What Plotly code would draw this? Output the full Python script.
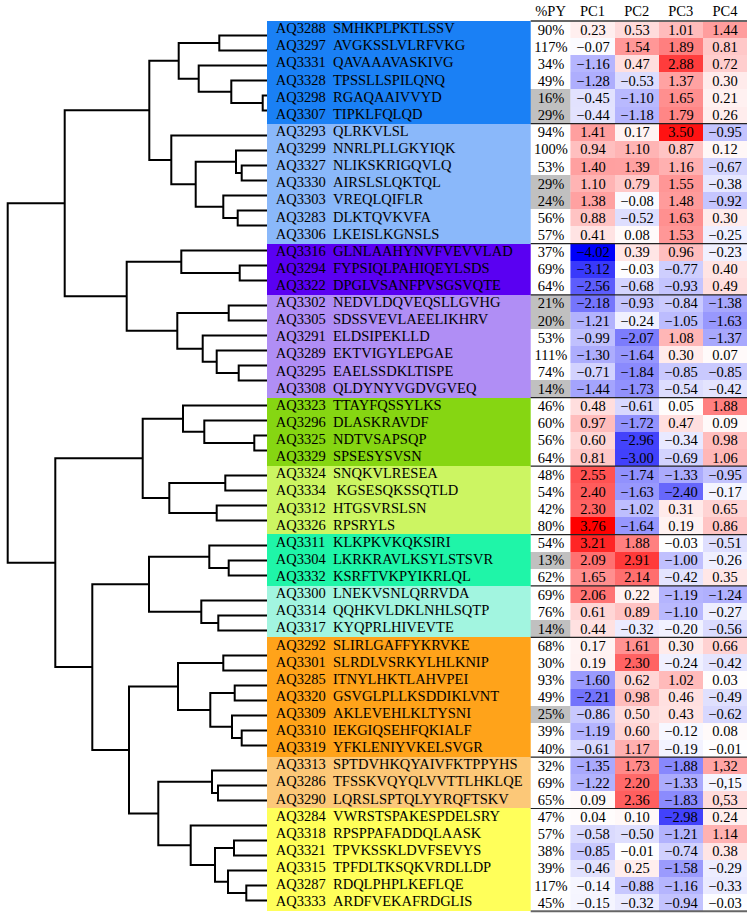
import plotly.graph_objects as go

# ---------------- data ----------------
GROUP_SIZES = [6, 7, 3, 6, 4, 4, 3, 3, 7, 3, 6]
GROUP_COLORS = ["#1a80f5", "#8ab8fa", "#5a00f2", "#b08ef5", "#86d612", "#ccf562",
                "#1ff5a8", "#a2f5e0", "#ffa31a", "#fcc878", "#ffff5a"]

IDS = ["AQ3288", "AQ3297", "AQ3331", "AQ3328", "AQ3298", "AQ3307",
       "AQ3293", "AQ3299", "AQ3327", "AQ3330", "AQ3303", "AQ3283", "AQ3306",
       "AQ3316", "AQ3294", "AQ3322",
       "AQ3302", "AQ3305", "AQ3291", "AQ3289", "AQ3295", "AQ3308",
       "AQ3323", "AQ3296", "AQ3325", "AQ3329",
       "AQ3324", "AQ3334", "AQ3312", "AQ3326",
       "AQ3311", "AQ3304", "AQ3332",
       "AQ3300", "AQ3314", "AQ3317",
       "AQ3292", "AQ3301", "AQ3285", "AQ3320", "AQ3309", "AQ3310", "AQ3319",
       "AQ3313", "AQ3286", "AQ3290",
       "AQ3284", "AQ3318", "AQ3321", "AQ3315", "AQ3287", "AQ3333"]

SEQS = ["SMHKPLPKTLSSV", "AVGKSSLVLRFVKG", "QAVAAAVASKIVG", "TPSSLLSPILQNQ", "RGAQAAIVVYD", "TIPKLFQLQD",
        "QLRKVLSL", "NNRLPLLGKYIQK", "NLIKSKRIGQVLQ", "AIRSLSLQKTQL", "VREQLQIFLR", "DLKTQVKVFA", "LKEISLKGNSLS",
        "GLNLAAHYNVFVEVVLAD", "FYPSIQLPAHIQEYLSDS", "DPGLVSANFPVSGSVQTE",
        "NEDVLDQVEQSLLGVHG", "SDSSVEVLAEELIKHRV", "ELDSIPEKLLD", "EKTVIGYLEPGAE", "EAELSSDKLTISPE", "QLDYNYVGDVGVEQ",
        "TTAYFQSSYLKS", "DLASKRAVDF", "NDTVSAPSQP", "SPSESYSVSN",
        "SNQKVLRESEA", "\u00a0KGSESQKSSQTLD", "HTGSVRSLSN", "RPSRYLS",
        "KLKPKVKQKSIRI", "LKRKRAVLKSYLSTSVR", "KSRFTVKPYIKRLQL",
        "LNEKVSNLQRRVDA", "QQHKVLDKLNHLSQTP", "KYQPRLHIVEVTE",
        "SLIRLGAFFYKRVKE", "SLRDLVSRKYLHLKNIP", "ITNYLHKTLAHVPEI", "GSVGLPLLKSDDIKLVNT", "AKLEVEHLKLTYSNI",
        "IEKGIQSEHFQKIALF", "YFKLENIYVKELSVGR",
        "SPTDVHKQYAIVFKTPPYHS", "TFSSKVQYQLVVTTLHKLQE", "LQRSLSPTQLYYRQFTSKV",
        "VWRSTSPAKESPDELSRY", "RPSPPAFADDQLAASK", "TPVKSSKLDVFSEVYS", "TPFDLTKSQKVRDLLDP", "RDQLPHPLKEFLQE",
        "ARDFVEKAFRDGLIS"]

PY = [90, 117, 34, 49, 16, 29,
      94, 100, 53, 29, 24, 56, 57,
      37, 69, 64,
      21, 20, 53, 111, 74, 14,
      46, 60, 56, 64,
      48, 54, 42, 80,
      54, 13, 62,
      69, 76, 14,
      68, 30, 93, 49, 25, 39, 40,
      32, 69, 65,
      47, 57, 38, 39, 117, 45]

PC1 = [0.23, -0.07, -1.16, -1.28, -0.45, -0.44,
       1.41, 0.94, 1.40, 1.10, 1.38, 0.88, 0.41,
       -4.02, -3.12, -2.56,
       -2.18, -1.21, -0.99, -1.30, -0.71, -1.44,
       0.48, 0.97, 0.60, 0.81,
       2.55, 2.40, 2.30, 3.76,
       3.21, 2.09, 1.65,
       2.06, 0.61, 0.44,
       0.17, 0.19, -1.60, -2.21, -0.86, -1.19, -0.61,
       -1.35, -1.22, 0.09,
       0.04, -0.58, -0.85, -0.46, -0.14, -0.15]

PC2 = [0.53, 1.54, 0.47, -0.53, -1.10, -1.18,
       0.17, 1.10, 1.39, 0.79, -0.08, -0.52, 0.08,
       0.39, -0.03, -0.68,
       -0.93, -0.24, -2.07, -1.64, -1.84, -1.73,
       -0.61, -1.72, -2.96, -3.00,
       -1.74, -1.63, -1.02, -1.64,
       1.88, 2.91, 2.14,
       0.22, 0.89, -0.32,
       1.61, 2.30, 0.62, 0.98, 0.50, 0.60, 1.17,
       1.73, 2.20, 2.36,
       0.10, -0.50, -0.01, 0.25, -0.88, -0.32]

PC3 = [1.01, 1.89, 2.88, 1.37, 1.65, 1.79,
       3.50, 0.87, 1.16, 1.55, 1.48, 1.63, 1.53,
       0.96, -0.77, -0.93,
       -0.84, -1.05, 1.08, 0.30, -0.85, -0.54,
       0.05, 0.47, -0.34, -0.69,
       -1.33, -2.40, 0.31, 0.19,
       -0.03, -1.00, -0.42,
       -1.19, -1.10, -0.20,
       0.30, -0.24, 1.02, 0.46, 0.43, -0.12, -0.19,
       -1.88, -1.33, -1.83,
       -2.98, -1.21, -0.74, -1.58, -1.16, -0.94]

PC4 = [1.44, 0.81, 0.72, 0.30, 0.21, 0.26,
       -0.95, 0.12, -0.67, -0.38, -0.92, 0.30, -0.25,
       -0.23, 0.40, 0.49,
       -1.38, -1.63, -1.37, 0.07, -0.85, -0.42,
       1.88, 0.09, 0.98, 1.06,
       -0.95, -0.17, 0.65, 0.86,
       -0.51, -0.26, 0.35,
       -1.24, -0.27, -0.56,
       0.66, -0.42, 0.03, -0.49, -0.62, 0.08, -0.01,
       1.32, -0.15, 0.53,
       0.24, 1.14, 0.38, -0.29, -0.33, -0.03]

# PC4 values printed with a decimal comma in the original table
COMMA_DECIMAL_IDS = ["AQ3313", "AQ3286", "AQ3290"]

COLUMNS = ["%PY", "PC1", "PC2", "PC3", "PC4"]

# Hierarchical clustering: (left, right, height); refs are leaf IDs or earlier merge indices
LINKAGE = [
    ("AQ3298", "AQ3307", 0.43),   # 0
    ("AQ3328", 0, 3.57),          # 1
    ("AQ3331", 1, 6.83),          # 2
    ("AQ3288", "AQ3297", 4.77),   # 3
    (3, 2, 8.83),                 # 4
    ("AQ3327", "AQ3330", 2.53),   # 5
    ("AQ3299", 5, 3.10),          # 6
    ("AQ3283", "AQ3306", 2.93),   # 7
    ("AQ3303", 7, 4.37),          # 8
    (6, 8, 7.13),                 # 9
    ("AQ3293", 9, 9.57),          # 10
    (4, 10, 11.77),               # 11
    ("AQ3294", "AQ3322", 2.73),   # 12
    ("AQ3316", 12, 8.57),         # 13
    ("AQ3302", "AQ3305", 3.83),   # 14
    ("AQ3295", "AQ3308", 2.83),   # 15
    ("AQ3289", 15, 5.03),         # 16
    ("AQ3291", 16, 6.43),         # 17
    (14, 17, 8.97),               # 18
    (13, 18, 14.03),              # 19
    (11, 19, 20.23),              # 20
    ("AQ3325", "AQ3329", 1.27),   # 21
    ("AQ3296", 21, 6.27),         # 22
    ("AQ3323", 22, 8.40),         # 23
    ("AQ3324", "AQ3334", 4.17),   # 24
    ("AQ3312", "AQ3326", 5.03),   # 25
    (24, 25, 9.77),               # 26
    (23, 26, 12.43),              # 27
    ("AQ3304", "AQ3332", 3.83),   # 28
    ("AQ3311", 28, 5.77),         # 29
    ("AQ3314", "AQ3317", 4.87),   # 30
    ("AQ3300", 30, 6.57),         # 31
    (29, 31, 11.80),              # 32
    ("AQ3292", "AQ3301", 4.37),   # 33
    ("AQ3285", "AQ3320", 3.23),   # 34
    ("AQ3310", "AQ3319", 2.53),   # 35
    ("AQ3309", 35, 3.50),         # 36
    (34, 36, 5.67),               # 37
    (33, 37, 8.90),               # 38
    ("AQ3286", "AQ3290", 4.90),   # 39
    ("AQ3313", 39, 5.50),         # 40
    ("AQ3318", "AQ3321", 3.30),   # 41
    ("AQ3287", "AQ3333", 2.07),   # 42
    ("AQ3315", 42, 3.90),         # 43
    (41, 43, 5.20),               # 44
    ("AQ3284", 44, 7.63),         # 45
    (40, 45, 10.87),              # 46
    (38, 46, 13.80),              # 47
    (32, 47, 17.47),              # 48
    (27, 48, 21.17),              # 49
    (20, 49, 25.93),              # 50
]

# ---------------- derived ----------------
n = len(IDS)
group_of = []
for g, s in enumerate(GROUP_SIZES):
    group_of += [g] * s
rows = list(range(n))

# dendrogram geometry (leaves spaced within groups, extra gap between groups)
leaf_index = {name: i for i, name in enumerate(IDS)}
leaf_y = [15 * i + 10 * group_of[i] for i in range(n)]
node_pos = []


def pos(ref):
    if isinstance(ref, str):
        return 0.0, leaf_y[leaf_index[ref]]
    return node_pos[ref]


dx, dy = [], []
for left, right, h in LINKAGE:
    hl, yl = pos(left)
    hr, yr = pos(right)
    dx += [hl, h, h, hr, None]
    dy += [yl, yl, yr, yr, None]
    node_pos.append((h, (yl + yr) / 2))


def fmt(v, comma=False):
    s = f"{v:.2f}"
    if comma:
        s = s.replace(".", ",")
    return s.replace("-", "\u2212")


pc_vals = [[PC1[i], PC2[i], PC3[i], PC4[i]] for i in rows]
pc_text = [[fmt(PC1[i]), fmt(PC2[i]), fmt(PC3[i]), fmt(PC4[i], IDS[i] in COMMA_DECIMAL_IDS)] for i in rows]
all_vals = PC1 + PC2 + PC3 + PC4
zmin, zmax = min(all_vals), max(all_vals)
mid = -zmin / (zmax - zmin)

FONT = "Liberation Serif"
FS = 14.5

# table x layout: label band, %PY column, 4 PC columns (unit = one PC column)
PY_W = 0.9
BAND_W = 5.974
X_BAND0 = -PY_W - BAND_W

fig = go.Figure()

# dendrogram
fig.add_trace(go.Scatter(x=dx, y=dy, mode="lines", line=dict(color="black", width=2),
                         xaxis="x", yaxis="y", hoverinfo="skip", showlegend=False))

# colored label band
band_scale = [[k / (len(GROUP_COLORS) - 1), c] for k, c in enumerate(GROUP_COLORS)]
fig.add_trace(go.Heatmap(z=[[g] for g in group_of], x=[X_BAND0, -PY_W], y=rows,
                         colorscale=band_scale, zmin=0, zmax=len(GROUP_COLORS) - 1,
                         showscale=False, xaxis="x2", yaxis="y2", hoverinfo="skip"))
fig.add_trace(go.Scatter(x=[X_BAND0 + 0.2] * n, y=rows, text=IDS, mode="text",
                         textposition="middle right",
                         textfont=dict(family=FONT, size=FS, color="black"),
                         xaxis="x2", yaxis="y2", hoverinfo="skip", showlegend=False))
fig.add_trace(go.Scatter(x=[X_BAND0 + 1.495] * n, y=rows, text=SEQS, mode="text",
                         textposition="middle right",
                         textfont=dict(family=FONT, size=FS, color="black"),
                         xaxis="x2", yaxis="y2", hoverinfo="skip", showlegend=False))

# %PY column
fig.add_trace(go.Heatmap(z=[[1 if p < 30 else 0] for p in PY], x=[-PY_W, 0], y=rows,
                         text=[[f"{p}%"] for p in PY], texttemplate="%{text}",
                         textfont=dict(family=FONT, size=FS, color="black"),
                         colorscale=[[0, "white"], [1, "#c0c0c0"]], zmin=0, zmax=1,
                         showscale=False, xaxis="x2", yaxis="y2", hoverinfo="skip"))

# PC heatmap
fig.add_trace(go.Heatmap(z=pc_vals, x=[0, 1, 2, 3, 4], y=rows, text=pc_text,
                         texttemplate="%{text}",
                         textfont=dict(family=FONT, size=FS, color="black"),
                         colorscale=[[0, "rgb(0,0,250)"], [mid, "white"], [1, "rgb(255,0,0)"]],
                         zmin=zmin, zmax=zmax, showscale=False,
                         xaxis="x2", yaxis="y2", hoverinfo="skip"))

# header
fig.add_trace(go.Scatter(x=[-PY_W / 2, 0.5, 1.5, 2.5, 3.5], y=[-1] * 5, text=COLUMNS,
                         mode="text", textfont=dict(family=FONT, size=FS, color="black"),
                         xaxis="x2", yaxis="y2", hoverinfo="skip", showlegend=False))

# group separators and table rules
bounds = []
c = 0
for s in GROUP_SIZES[:-1]:
    c += s
    bounds.append(c - 0.5)
sx, sy = [], []
for b in bounds:
    sx += [-PY_W, 4, None]
    sy += [b, b, None]
fig.add_trace(go.Scatter(x=sx, y=sy, mode="lines", line=dict(color="#222222", width=1.2),
                         xaxis="x2", yaxis="y2", hoverinfo="skip", showlegend=False))
fig.add_trace(go.Scatter(x=[-PY_W, 4, None, -PY_W, 4], y=[-0.5, -0.5, None, n - 0.5, n - 0.5],
                         mode="lines", line=dict(color="#666666", width=2.2),
                         xaxis="x2", yaxis="y2", hoverinfo="skip", showlegend=False))

W, H = 754, 919
hidden = dict(visible=False, showgrid=False, zeroline=False, fixedrange=True)
fig.update_layout(
    width=W, height=H, margin=dict(l=0, r=0, t=0, b=0),
    paper_bgcolor="white", plot_bgcolor="rgba(0,0,0,0)", showlegend=False,
    xaxis=dict(domain=[0, 267 / W], range=[26.7, 0], **hidden),
    yaxis=dict(domain=[0, 1], range=[H - 35.5, -35.5], **hidden),
    xaxis2=dict(domain=[267 / W, 747 / W], range=[X_BAND0, 4], **hidden),
    yaxis2=dict(domain=[0, 1], range=[(H - 21) / 17.12 - 0.5, -21 / 17.12 - 0.5], **hidden),
)

fig.write_html("out.html", include_plotlyjs=True, config={"displayModeBar": False},
               post_script="document.body.style.margin='0';document.body.style.overflow='hidden';")
